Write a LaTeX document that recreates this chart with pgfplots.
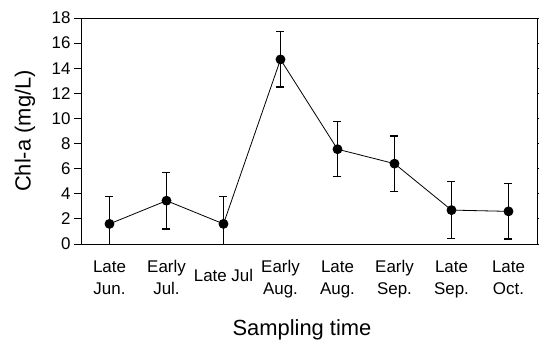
\documentclass[border=0pt]{standalone}
\usepackage{fontspec}
\setmainfont{Liberation Sans}
\usepackage{pgfplots}
\pgfplotsset{compat=1.18}
\begin{document}
\begin{tikzpicture}
\path[use as bounding box] (-81bp,-103bp) rectangle (458bp,244bp);
\begin{axis}[
  scale only axis, width=456bp, height=226bp,
  xmin=-0.5, xmax=7.5, ymin=0, ymax=18,
  ytick={0,2,...,18},
  xtick={0,...,7},
  xticklabels={{Late\\Jun.},{Early\\Jul.},{\rule{0pt}{21bp}Late Jul},{Early\\Aug.},{Late\\Aug.},{Early\\Sep.},{Late\\Sep.},{Late\\Oct.}},
  xticklabel style={align=center, font=\fontsize{17}{22}\selectfont, anchor=north, yshift=-6bp},
  yticklabel style={font=\fontsize{17}{20}\selectfont},
  xtick style={draw=none},
  minor xtick={0.5,1.5,...,6.5},
  minor x tick style={yshift=5bp},
  minor tick length=5bp,
  major tick length=7bp,
  tick align=outside,
  tick style={black, line width=0.8bp},
  axis line style={line width=0.8bp},
  ylabel={Chl-a (mg/L)}, xlabel={Sampling time},
  label style={font=\fontsize{22}{26}\selectfont},
  ylabel style={at={(axis description cs:0,0.5)}, anchor=center, yshift=56bp},
  xlabel style={at={(axis description cs:0.5,0)}, anchor=center, yshift=-86bp, xshift=-7bp},
  /pgf/number format/assume math mode=true,
]
\addplot[black, line width=0.8bp, mark=*, mark size=4.5bp,
  error bars/.cd, y dir=both, y explicit,
  error bar style={line width=1.2bp},
  error mark options={rotate=90, mark size=4bp, line width=1.2bp}]
  table[x=x, y=y, y error=e] {
x y e
0 1.6 2.2
1 3.45 2.25
2 1.6 2.2
3 14.7 2.2
4 7.55 2.2
5 6.4 2.2
6 2.7 2.25
7 2.6 2.2
};
\end{axis}
\end{tikzpicture}
\end{document}
